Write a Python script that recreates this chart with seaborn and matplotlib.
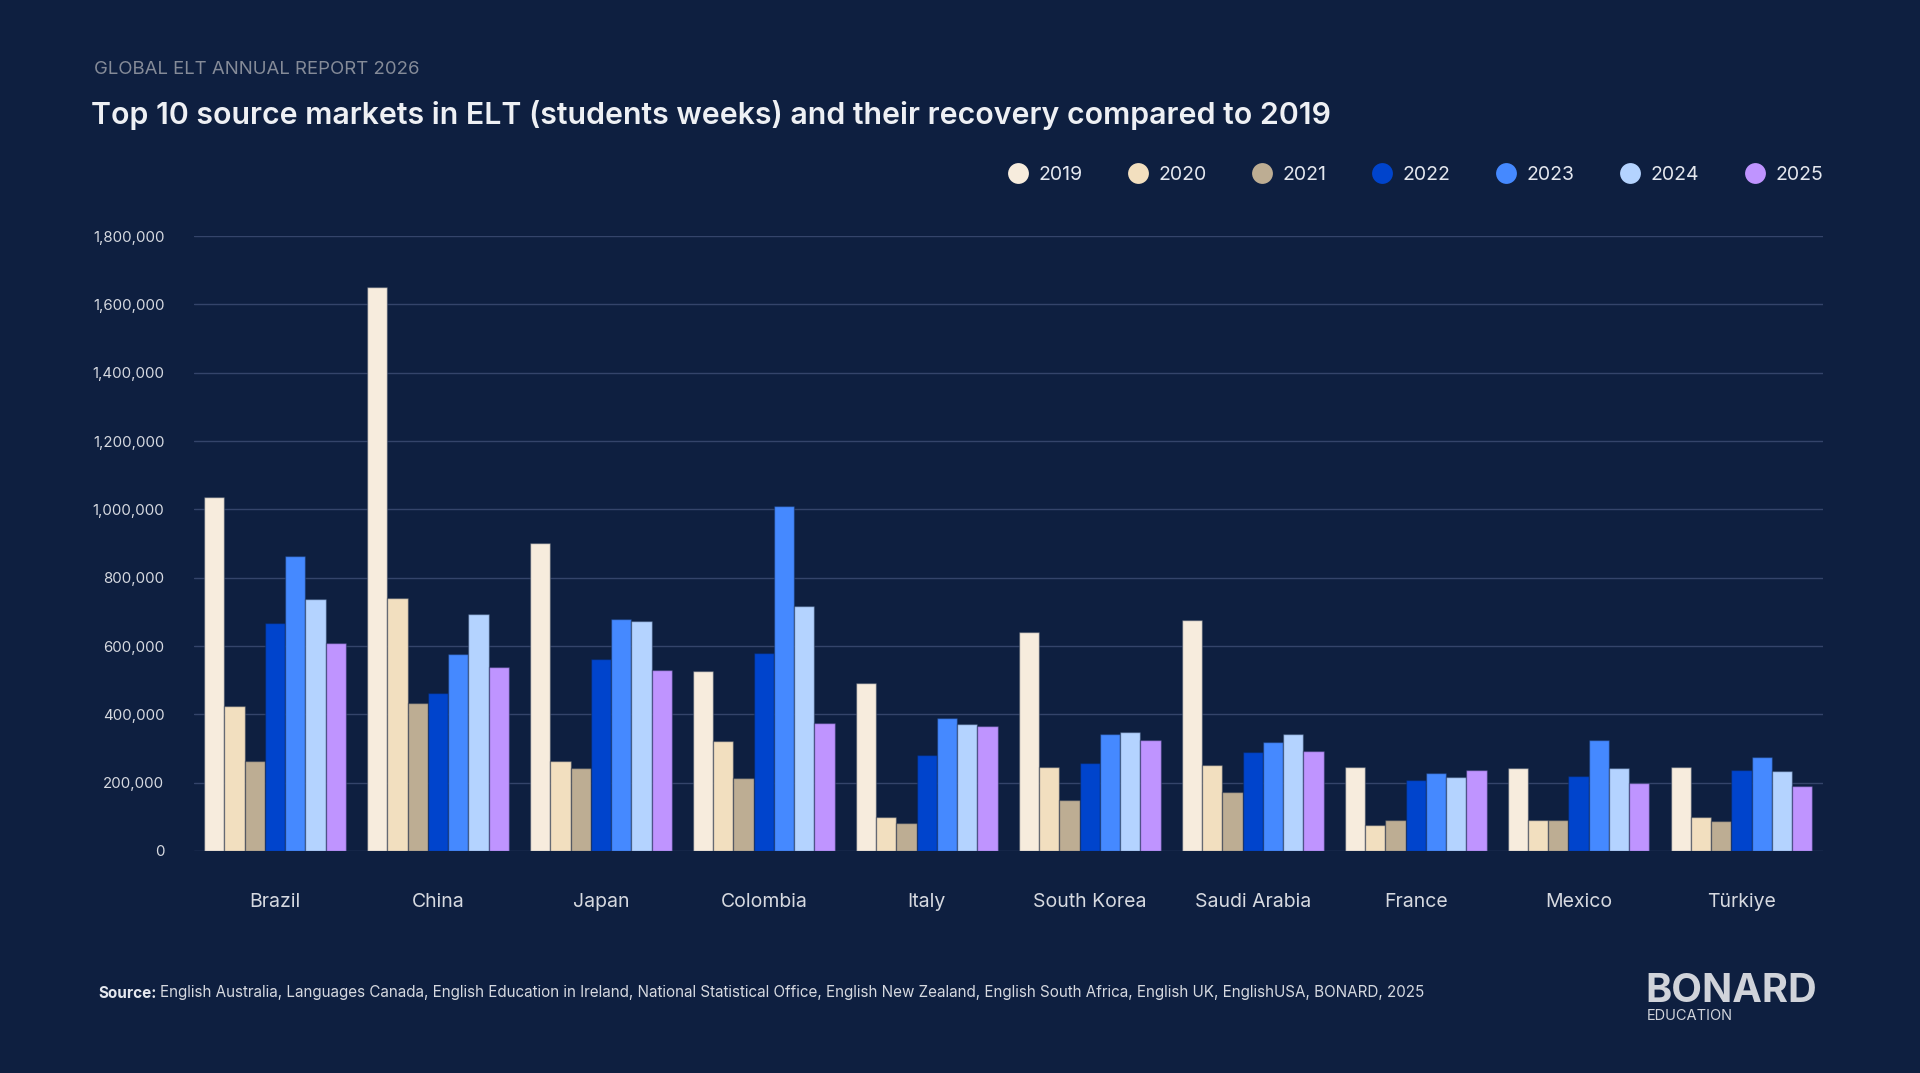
import pandas as pd
import seaborn as sns
import matplotlib.pyplot as plt
from matplotlib.lines import Line2D
from matplotlib.ticker import FuncFormatter

# Data (student weeks)
countries = ['Brazil', 'China', 'Japan', 'Colombia', 'Italy', 'South Korea',
             'Saudi Arabia', 'France', 'Mexico', 'Türkiye']
years = ['2019', '2020', '2021', '2022', '2023', '2024', '2025']
v2019 = [1035000, 1650000, 901000, 526000, 493000, 641000, 676000, 247000, 243000, 247000]
v2020 = [425000, 742000, 264000, 321000, 100000, 247000, 252000, 76000, 92000, 100000]
v2021 = [264000, 434000, 244000, 214000, 83000, 149000, 172000, 92000, 92000, 88000]
v2022 = [667000, 463000, 561000, 580000, 280000, 258000, 291000, 209000, 220000, 238000]
v2023 = [864000, 576000, 680000, 1010000, 389000, 342000, 320000, 229000, 325000, 276000]
v2024 = [737000, 694000, 672000, 717000, 371000, 347000, 342000, 216000, 243000, 234000]
v2025 = [609000, 539000, 530000, 375000, 366000, 325000, 292000, 238000, 200000, 191000]
colors = ['#f7ecdd', '#f2dfbf', '#bdad93', '#0044cc', '#4589ff', '#b4d3ff', '#bf94ff']

series = [v2019, v2020, v2021, v2022, v2023, v2024, v2025]
rows = []
for yr, vals in zip(years, series):
    for c, v in zip(countries, vals):
        rows.append({'country': c, 'year': yr, 'value': v})
df = pd.DataFrame(rows)

bg = '#0e1f40'
txt = '#d6d9e0'
grid = '#34446a'

sns.set_theme(style='dark')
plt.rcParams['font.family'] = ['Inter', 'DejaVu Sans']

fig = plt.figure(figsize=(19.2, 10.73), dpi=100, facecolor=bg)
ax = fig.add_axes([0.1008, 0.2069, 0.8487, 0.5731])
ax.set_facecolor(bg)

sns.barplot(data=df, x='country', y='value', hue='year', palette=colors,
            saturation=1, width=0.87, edgecolor=(0.05, 0.12, 0.25, 0.4),
            linewidth=1, legend=False, ax=ax)

ax.set_ylim(0, 1800000)
ax.set_yticks(range(0, 1800001, 200000))
ax.yaxis.set_major_formatter(FuncFormatter(lambda v, p: f'{int(v):,}'))
ax.grid(axis='y', color=grid, linewidth=1)
ax.grid(axis='x', visible=False)
ax.set_axisbelow(True)
for s in ax.spines.values():
    s.set_visible(False)
ax.set_xlabel('')
ax.set_ylabel('')
ax.tick_params(axis='y', colors=txt, labelsize=10.8, pad=21, length=0)
ax.tick_params(axis='x', colors=txt, labelsize=14, pad=30, length=0)

# Header
fig.text(94 / 1920, 1 - 70 / 1073, 'GLOBAL ELT ANNUAL REPORT 2026',
         color='#858b98', fontsize=13.4, va='center', ha='left')
fig.text(91 / 1920, 1 - 115 / 1073,
         'Top 10 source markets in ELT (students weeks) and their recovery compared to 2019',
         color='#eef0f4', fontsize=21.8, fontweight='semibold', va='center', ha='left')

# Legend
handles = [Line2D([], [], marker='o', linestyle='', markersize=15,
                  markerfacecolor=c, markeredgecolor='none') for c in colors]
fig.legend(handles, years, loc='center right',
           bbox_to_anchor=(1823 / 1920, 1 - 175 / 1073), ncol=7, frameon=False,
           fontsize=14, labelcolor='#e4e7ee', handletextpad=0.55,
           columnspacing=2.36, handlelength=1.0, borderpad=0, borderaxespad=0)

# Footer
src = fig.text(98 / 1920, 1 - 993 / 1073, 'Source:', color='#e4e7ee',
               fontsize=11, fontweight='bold', va='center', ha='left')
fig.canvas.draw()
bb = src.get_window_extent(renderer=fig.canvas.get_renderer())
fig.text((bb.x1 + 4) / 1920, 1 - 993 / 1073,
         'English Australia, Languages Canada, English Education in Ireland, National Statistical Office, '
         'English New Zealand, English South Africa, English UK, EnglishUSA, BONARD, 2025',
         color='#d6d9e0', fontsize=10.95, va='center', ha='left')

fig.text(1645 / 1920, 1 - 991 / 1073, 'BONARD', color='#d0d3da', fontsize=28.6,
         fontweight='bold', va='center', ha='left')
fig.text(1647 / 1920, 1 - 1016 / 1073, 'EDUCATION', color='#d0d3da', fontsize=10.5,
         va='center', ha='left')

fig.savefig('out.png', dpi=100, facecolor=bg)
